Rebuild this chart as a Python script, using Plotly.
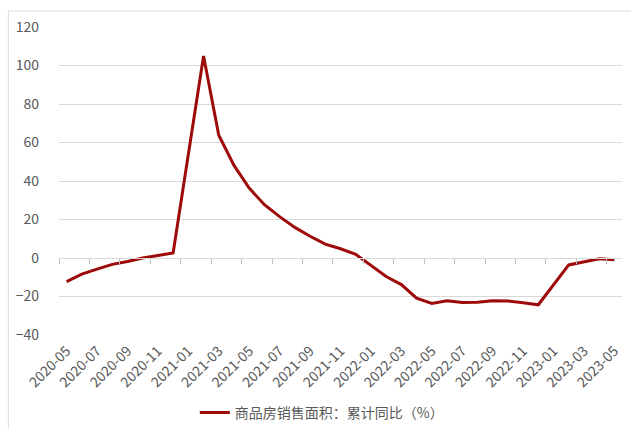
import plotly.graph_objects as go

months = [
    "2020-05", "2020-06", "2020-07", "2020-08", "2020-09", "2020-10", "2020-11", "2020-12",
    "2021-01", "2021-02", "2021-03", "2021-04", "2021-05", "2021-06", "2021-07", "2021-08",
    "2021-09", "2021-10", "2021-11", "2021-12",
    "2022-01", "2022-02", "2022-03", "2022-04", "2022-05", "2022-06", "2022-07", "2022-08",
    "2022-09", "2022-10", "2022-11", "2022-12",
    "2023-01", "2023-02", "2023-03", "2023-04", "2023-05",
]
sales_area_yoy = [
    -12.3, -8.4, -5.8, -3.3, -1.8, 0.0, 1.3, 2.6,
    None, 104.9, 63.8, 48.1, 36.3, 27.7, 21.5, 15.9,
    11.3, 7.2, 4.8, 1.9,
    None, -9.6, -13.8, -20.9, -23.6, -22.2, -23.1, -23.0,
    -22.2, -22.3, -23.3, -24.3,
    None, -3.6, -1.8, -0.4, -0.9,
]
series_name = "商品房销售面积：累计同比（%）"
y_ticks = [-40, -20, 0, 20, 40, 60, 80, 100, 120]
label_months = months[::2]

LINE = "#9E0A0A"
GRID = "#D9D9D9"
TXT = "#595959"
FONT = "Noto Sans CJK SC, Noto Sans, sans-serif"

fig = go.Figure()
fig.add_trace(go.Scatter(
    x=months, y=sales_area_yoy, mode="lines", name=series_name,
    line=dict(color=LINE, width=3), connectgaps=True, xaxis="x", yaxis="y",
))
# invisible copy used only to draw the category axis line with tick marks at y=0
fig.add_trace(go.Scatter(
    x=months, y=sales_area_yoy, mode="lines", showlegend=False, hoverinfo="skip",
    line=dict(color="rgba(0,0,0,0)", width=0), connectgaps=True, xaxis="x2", yaxis="y",
))

fig.update_layout(
    width=631, height=428,
    margin=dict(l=59, r=9, t=27, b=93),
    paper_bgcolor="white", plot_bgcolor="white",
    font=dict(family=FONT, size=14, color=TXT),
    xaxis=dict(
        type="category", categoryorder="array", categoryarray=months,
        range=[-0.5, len(months) - 0.5], automargin=False,
        tickmode="array", tickvals=label_months, ticktext=label_months,
        tickangle=-45, ticks="", showgrid=False, showline=False, zeroline=False,
        ticklabelstandoff=4, tickfont=dict(size=14, color=TXT),
    ),
    xaxis2=dict(
        type="category", categoryorder="array", categoryarray=months,
        range=[-0.5, len(months) - 0.5], overlaying="x", anchor="free", automargin=False,
        position=(0 - y_ticks[0]) / (y_ticks[-1] - y_ticks[0]),
        tickmode="linear", tick0=0, dtick=2, tickson="boundaries",
        ticks="outside", ticklen=5, tickcolor="#BFBFBF", tickwidth=1,
        showticklabels=False, showgrid=False, zeroline=False,
        showline=True, linecolor=GRID, linewidth=1,
    ),
    yaxis=dict(
        range=[y_ticks[0], y_ticks[-1]], tickmode="array", tickvals=y_ticks, automargin=False,
        showgrid=True, gridcolor=GRID, gridwidth=1, zeroline=False, showline=False,
        ticks="", ticklabelstandoff=19, tickfont=dict(size=14, color=TXT),
    ),
    legend=dict(
        orientation="h", xref="container", yref="container",
        x=0.51, xanchor="center", y=0.035, yanchor="middle",
        font=dict(size=14, color=TXT), itemwidth=30,
    ),
    shapes=[
        dict(type="line", xref="paper", yref="paper", x0=-0.09, x1=1.02, y0=1.052, y1=1.052,
             line=dict(color=GRID, width=1)),
        dict(type="line", xref="paper", yref="paper", x0=-0.09, x1=-0.09, y0=1.052, y1=-0.35,
             line=dict(color=GRID, width=1)),
    ],
)

fig.write_html("out.html")
